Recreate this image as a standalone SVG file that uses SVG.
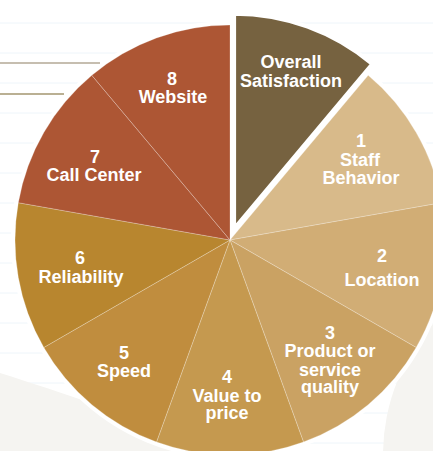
<svg xmlns="http://www.w3.org/2000/svg" width="433" height="451" viewBox="0 0 433 451">
<style>
.bg{stroke:#eef5fa;stroke-width:1}
.sl{stroke:#ffffff;stroke-opacity:0.35;stroke-width:0.7}
.lb{font-family:"Liberation Sans",Arial,sans-serif;font-weight:bold;font-size:18px;fill:#ffffff;text-anchor:middle}
</style>
<rect width="433" height="451" fill="#ffffff"/>
<g id="background">
<line class="bg" x1="0" y1="23" x2="433" y2="23"/>
<line class="bg" x1="0" y1="53" x2="433" y2="53"/>
<line class="bg" x1="0" y1="83" x2="433" y2="83"/>
<line class="bg" x1="0" y1="113" x2="433" y2="113"/>
<line class="bg" x1="0" y1="143" x2="433" y2="143"/>
<line class="bg" x1="0" y1="173" x2="433" y2="173"/>
<line class="bg" x1="0" y1="203" x2="433" y2="203"/>
<line class="bg" x1="0" y1="233" x2="433" y2="233"/>
<line class="bg" x1="0" y1="263" x2="433" y2="263"/>
<line class="bg" x1="0" y1="293" x2="433" y2="293"/>
<line class="bg" x1="0" y1="323" x2="433" y2="323"/>
<line class="bg" x1="0" y1="353" x2="433" y2="353"/>
<line class="bg" x1="0" y1="383" x2="433" y2="383"/>
<line class="bg" x1="0" y1="413" x2="433" y2="413"/>
<line class="bg" x1="0" y1="443" x2="433" y2="443"/>
<line x1="0" y1="63" x2="100" y2="63" stroke="#b3a996" stroke-width="1.6"/>
<line x1="0" y1="94" x2="64" y2="94" stroke="#a3966f" stroke-width="1.6"/>
<path d="M0,373 C80,398 200,440 300,485 L0,485 Z" fill="#f5f4f1"/>
<circle cx="580" cy="455" r="197" fill="#f5f4f1"/>
<circle cx="230" cy="240" r="219" fill="#ffffff"/>
</g>
<g id="connectors"></g>
<g id="slice1"><path class="sl" d="M230,240 L368.2,75.3 A215,215 0 0 1 441.7,202.7 Z" fill="#d8ba8a"/>
<text class="lb" x="361" y="147">1</text><text class="lb" x="360" y="166">Staff</text><text class="lb" x="361" y="184">Behavior</text></g>
<g id="slice2"><path class="sl" d="M230,240 L441.7,202.7 A215,215 0 0 1 416.2,347.5 Z" fill="#d1ad75"/>
<text class="lb" x="382" y="262">2</text><text class="lb" x="382" y="286">Location</text></g>
<g id="slice3"><path class="sl" d="M230,240 L416.2,347.5 A215,215 0 0 1 303.5,442 Z" fill="#caa263"/>
<text class="lb" x="330" y="339">3</text><text class="lb" x="330" y="357">Product or</text><text class="lb" x="330" y="376">service</text><text class="lb" x="330" y="393">quality</text></g>
<g id="slice4"><path class="sl" d="M230,240 L303.5,442 A215,215 0 0 1 156.5,442 Z" fill="#c5994f"/>
<text class="lb" x="227" y="383">4</text><text class="lb" x="227" y="402">Value to</text><text class="lb" x="227" y="419">price</text></g>
<g id="slice5"><path class="sl" d="M230,240 L156.5,442 A215,215 0 0 1 43.8,347.5 Z" fill="#c08d3e"/>
<text class="lb" x="124" y="359">5</text><text class="lb" x="124" y="377">Speed</text></g>
<g id="slice6"><path class="sl" d="M230,240 L43.8,347.5 A215,215 0 0 1 18.3,202.7 Z" fill="#b8862f"/>
<text class="lb" x="80" y="264">6</text><text class="lb" x="81" y="283">Reliability</text></g>
<g id="slice7"><path class="sl" d="M230,240 L18.3,202.7 A215,215 0 0 1 91.8,75.3 Z" fill="#ad5634"/>
<text class="lb" x="95" y="163">7</text><text class="lb" x="94" y="181">Call Center</text></g>
<g id="slice8"><path class="sl" d="M230,240 L91.8,75.3 A215,215 0 0 1 230,25 Z" fill="#ad5634"/>
<text class="lb" x="172" y="85">8</text><text class="lb" x="173" y="103">Website</text></g>
<g id="overall"><path d="M234.1,228.7 L234.1,13.7 A215,215 0 0 1 372.3,64 Z" fill="#766240" stroke="#ffffff" stroke-width="4" stroke-linejoin="miter"/>
<text class="lb" x="291" y="68">Overall</text><text class="lb" x="291" y="87">Satisfaction</text></g>
</svg>
